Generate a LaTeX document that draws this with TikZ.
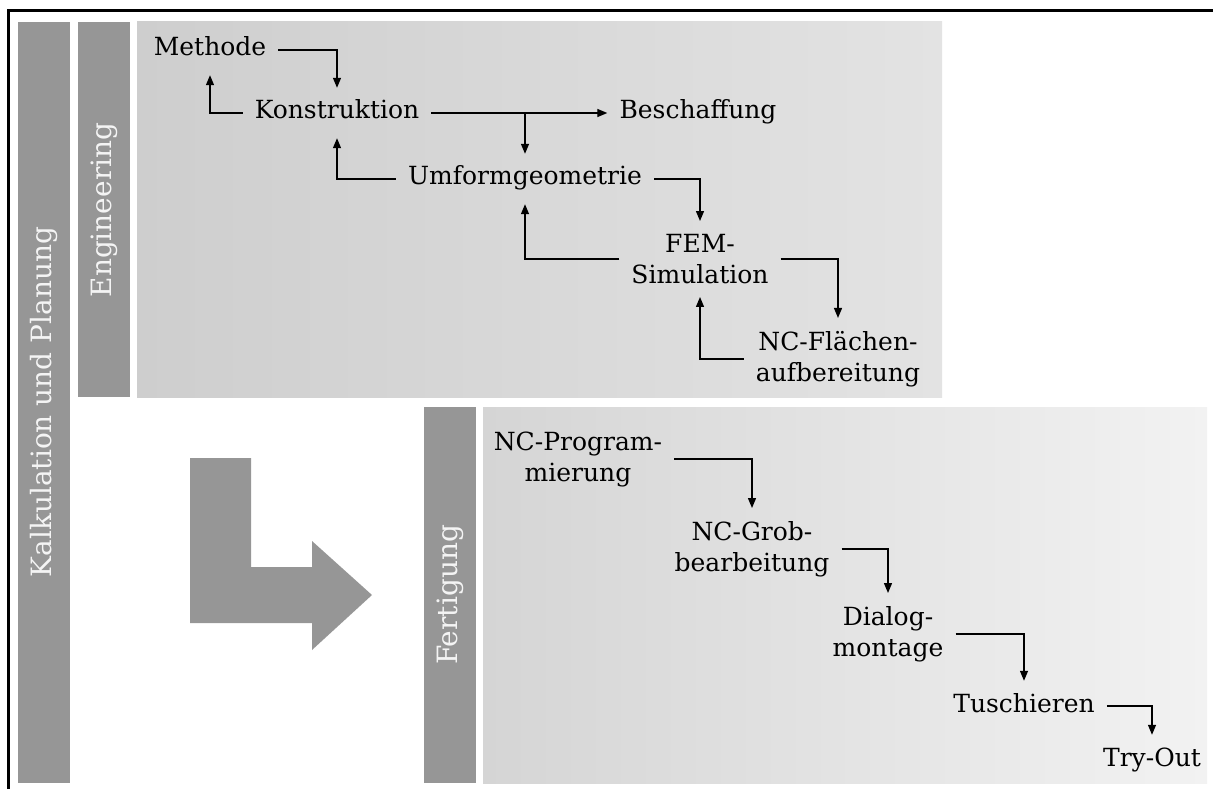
\documentclass[tikz,border=0pt]{standalone}
\usepackage{fontspec}
\setmainfont{DejaVu Serif}
\usetikzlibrary{arrows.meta}
\definecolor{barfill}{HTML}{969696}
\definecolor{engleft}{HTML}{CECECE}
\definecolor{engright}{HTML}{E3E3E3}
\definecolor{fertleft}{HTML}{D5D5D5}
\definecolor{fertright}{HTML}{F2F2F2}
\definecolor{labeltext}{HTML}{F4F4F4}

\begin{document}
\begin{tikzpicture}[x=1pt,y=-1pt,
  barlabel/.style={rotate=90, text=labeltext, font=\fontsize{28}{34}\selectfont, inner sep=0pt},
  stepnode/.style={font=\fontsize{25}{31}\selectfont, align=center, inner xsep=12pt, inner ysep=13pt},
  oneline/.style={stepnode, text height=18pt, text depth=6pt},
  flow/.style={line width=1.3pt, -{Triangle[length=10pt,width=8pt]}},
]
\useasboundingbox (0,0) rectangle (1213,789);

% outer frame (top and left edges)
\draw[line width=3pt] (8,789) -- (8,11) -- (1213,11);

% phase bars and panels
\fill[barfill] (18,22) rectangle (70,783);
\fill[barfill] (78,22) rectangle (130,397);
\shade[left color=engleft, right color=engright] (137,22) rectangle (942,397);
\fill[barfill] (424,407) rectangle (476,783);
\shade[left color=fertleft, right color=fertright] (483,407) rectangle (1207,783);

% bent arrow from engineering to production
\fill[barfill] (190,458) -- (251,458) -- (251,567) -- (312,567) -- (312,541)
  -- (372,595) -- (312,650) -- (312,623) -- (190,623) -- cycle;

% vertical phase labels
\node[barlabel] (kalk) at (44,402) {Kalkulation und Planung};
\node[barlabel] (eng) at (104,210) {Engineering};
\node[barlabel] (fert) at (450,595) {Fertigung};

% engineering steps
\node[oneline] (meth) at (210,50) {Methode};
\node[oneline] (kons) at (337,113) {Konstruktion};
\node[oneline] (besch) at (698,113) {Beschaffung};
\node[oneline] (umf) at (525,179) {Umformgeometrie};
\node[stepnode] (fem) at (700,259) {FEM-\\Simulation};
\node[stepnode] (ncf) at (838,359) {NC-Flächen-\\aufbereitung};

% production steps
\node[stepnode] (ncp) at (578,459) {NC-Program-\\mierung};
\node[stepnode] (ncg) at (752,549) {NC-Grob-\\bearbeitung};
\node[stepnode] (dial) at (888,634) {Dialog-\\montage};
\node[oneline] (tusch) at (1024,706) {Tuschieren};
\node[oneline] (try) at (1152,760) {Try-Out};

% engineering flow
\draw[flow] (meth.east) -| (kons.north);
\draw[flow] (kons.west) -| (meth.south);
\draw[flow] (kons.east) -- (besch.west);
\draw[flow] (kons.east -| umf.north) -- (umf.north);
\draw[flow] (umf.west) -| (kons.south);
\draw[flow] (umf.east) -| (fem.north);
\draw[flow] (fem.west) -| (umf.south);
\draw[flow] (fem.east) -| (ncf.north);
\draw[flow] (ncf.west) -| (fem.south);

% production flow
\draw[flow] (ncp.east) -| (ncg.north);
\draw[flow] (ncg.east) -| (dial.north);
\draw[flow] (dial.east) -| (tusch.north);
\draw[flow] (tusch.east) -| (try.north);
\end{tikzpicture}
\end{document}
